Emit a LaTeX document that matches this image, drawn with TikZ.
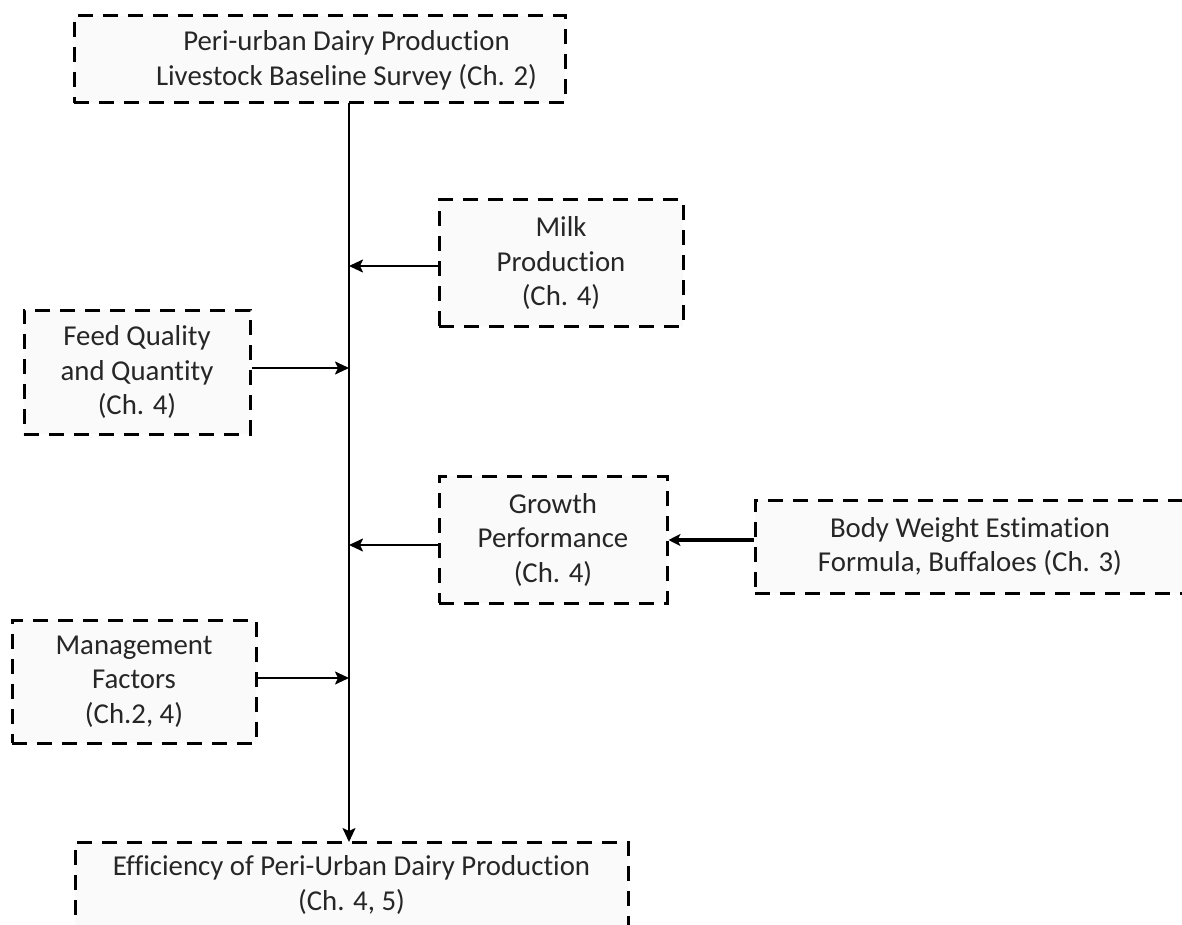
\documentclass[tikz,border=0pt]{standalone}
\usepackage{fontspec}
\setmainfont{Carlito}[Ligatures=NoCommon]
\usetikzlibrary{arrows.meta}
\tikzset{
  dbox/.style={draw=black, line width=3pt, dash pattern=on 15pt off 10pt, fill=black!2,
    text=black!85, align=center, inner sep=0pt, font=\fontsize{28.8}{34.5}\selectfont},
  txt/.style={text=black!85, align=center, inner sep=0pt, font=\fontsize{28.8}{34.5}\selectfont},
  arr/.style={line width=2pt, -{Stealth[length=14pt,width=13pt,inset=3pt]}},
  thickarr/.style={line width=4pt, -{Stealth[length=12pt,width=12pt,inset=3pt]}}
}
\begin{document}
\begin{tikzpicture}[x=1pt,y=-1pt]
\useasboundingbox (0,0) rectangle (1182,925);
\clip (0,0) rectangle (1182,925);
\node[dbox, minimum width=491pt, minimum height=87pt] (top) at (319.5,59.5) {};
\node[txt] (toptext) at (346.5,60.5)
  {Peri-urban Dairy Production\\Livestock Baseline Survey (Ch. 2)};
\node[dbox, minimum width=244pt, minimum height=126pt] (milk) at (561,263)
  {Milk\\Production\\(Ch. 4)};
\node[dbox, minimum width=226pt, minimum height=124pt] (feed) at (137,372)
  {Feed Quality\\and Quantity\\(Ch. 4)};
\node[dbox, minimum width=228pt, minimum height=127pt] (growth) at (553,539.5)
  {Growth\\Performance\\(Ch. 4)};
\node[dbox, minimum width=430pt, minimum height=93pt] (body) at (970,546.5)
  {Body Weight Estimation\\Formula, Buffaloes (Ch. 3)};
\node[dbox, minimum width=244pt, minimum height=123pt] (mgmt) at (134,681.5)
  {Management\\Factors\\(Ch.2, 4)};
\node[dbox, minimum width=553pt, minimum height=86pt] (eff) at (351.5,885)
  {Efficiency of Peri-Urban Dairy Production\\(Ch. 4, 5)};
\coordinate (s1) at (349,103);
\coordinate (s2) at (349,842);
\draw[arr] (s1) -- (s2);
\draw[arr] ([yshift=-3pt]milk.west) -- ([yshift=-3pt]milk.west -| s1);
\draw[arr] ([yshift=4pt]feed.east) -- ([yshift=4pt]feed.east -| s1);
\draw[arr] ([yshift=-5.5pt]growth.west) -- ([yshift=-5.5pt]growth.west -| s1);
\draw[arr] ([yshift=3.5pt]mgmt.east) -- ([yshift=3.5pt]mgmt.east -| s1);
\draw[thickarr] ([yshift=6.5pt]body.west) -- ([yshift=6.5pt]growth.east |- body.west);
\end{tikzpicture}
\end{document}
